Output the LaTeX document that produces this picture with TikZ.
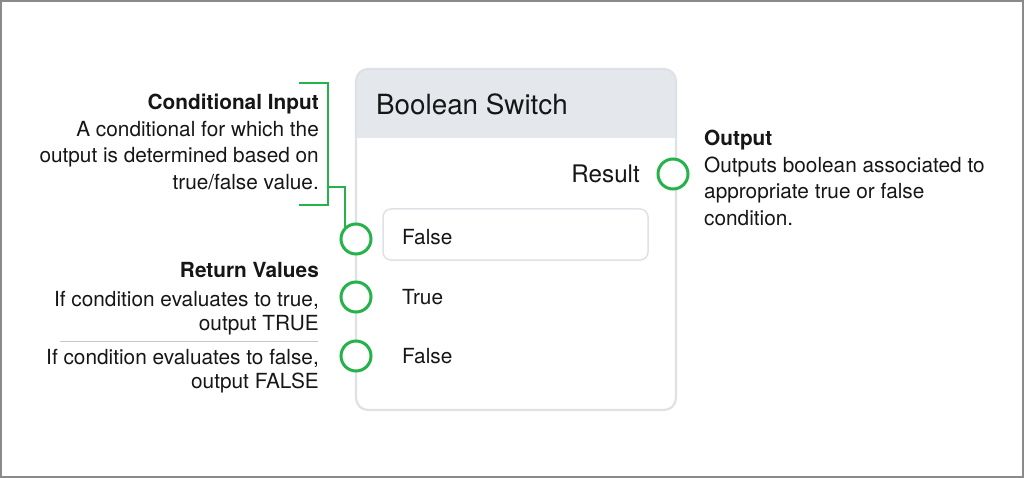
\documentclass[tikz,border=0pt]{standalone}
\usepackage{fontspec}
\setmainfont{TeX Gyre Heros}
\definecolor{pgreen}{HTML}{25B24A}
\definecolor{hdrgray}{HTML}{E4E8ED}
\definecolor{bordgray}{HTML}{DEE2E7}
\definecolor{framegray}{HTML}{8A8A8A}
\definecolor{txt}{HTML}{161616}
\definecolor{sepgray}{HTML}{C8C8C8}
\begin{document}
\begin{tikzpicture}[x=1pt,y=-1pt,
  port/.style={circle,draw=pgreen,line width=3pt,fill=white,minimum size=30pt,inner sep=0pt},
  desc/.style={font=\fontsize{20.8}{26.5}\selectfont,text=txt,inner sep=0pt},
  lbl/.style={font=\fontsize{20.8}{24}\selectfont,text=txt,inner sep=0pt},
  brk/.style={draw=pgreen,line width=1.5pt}]
\useasboundingbox (0,0) rectangle (1024,478);
\draw[framegray,line width=2pt] (1,1) rectangle (1023,477);
% main box
\coordinate (boxtl) at (356,69);
\coordinate (boxbr) at (676,410);
\fill[white,rounded corners=12pt] (boxtl) rectangle (boxbr);
\begin{scope}
\clip[rounded corners=12pt] (boxtl) rectangle (boxbr);
\fill[hdrgray] (356,69) rectangle (676,138);
\end{scope}
\draw[bordgray,line width=2.2pt,rounded corners=12pt] (boxtl) rectangle (boxbr);
\node[anchor=west,font=\fontsize{27.8}{30}\selectfont,text=txt,inner sep=0pt] (title) at (376,104) {Boolean Switch};
% input field
\draw[bordgray,line width=1.5pt,fill=white,rounded corners=8pt] (383,209) rectangle (648,260);
\node[lbl,anchor=west] (f1) at (402,237) {False};
\node[lbl,anchor=west] (t1) at (402,297) {True};
\node[lbl,anchor=west] (f2) at (402,356) {False};
\node[anchor=east,font=\fontsize{24.2}{26}\selectfont,text=txt,inner sep=0pt] (res) at (640,174) {Result};
% bracket
\coordinate (bt) at (299,83);
\coordinate (bb) at (299,205);
\coordinate (bm) at (328,187);
\coordinate (bj) at (345,187);
% ports
\node[port] (pin1) at (356,239) {};
\node[port] (pin2) at (356,297) {};
\node[port] (pin3) at (356,356) {};
\node[port] (pout) at (673,174) {};
\draw[brk] (bt) -- (328,83) -- (328,205) -- (bb);
\draw[brk] (bm) -- (bj) -- (bj |- pin1.north west);
% left texts
\node[desc,anchor=north east,align=right] (cond) at (319,94)
  {\textbf{Conditional Input}\\A conditional for which the\\output is determined based on\\true/false value.};
\node[desc,anchor=east,font=\fontsize{20.8}{26.5}\selectfont\bfseries] (rv) at (319,270) {Return Values};
\node[desc,anchor=north east,align=right,font=\fontsize{20.8}{24.5}\selectfont] (rt) at (319,291)
  {If condition evaluates to true,\\output TRUE};
\coordinate (sepl) at (60,341);
\coordinate (sepr) at (318,341);
\draw[sepgray,line width=1pt] (sepl) -- (sepr);
\node[desc,anchor=north east,align=right,font=\fontsize{20.8}{24.5}\selectfont] (rf) at (319,349)
  {If condition evaluates to false,\\output FALSE};
% right text
\node[desc,anchor=north west,align=left] (outd) at (704,130)
  {\textbf{Output}\\Outputs boolean associated to\\appropriate true or false\\condition.};
\end{tikzpicture}
\end{document}
